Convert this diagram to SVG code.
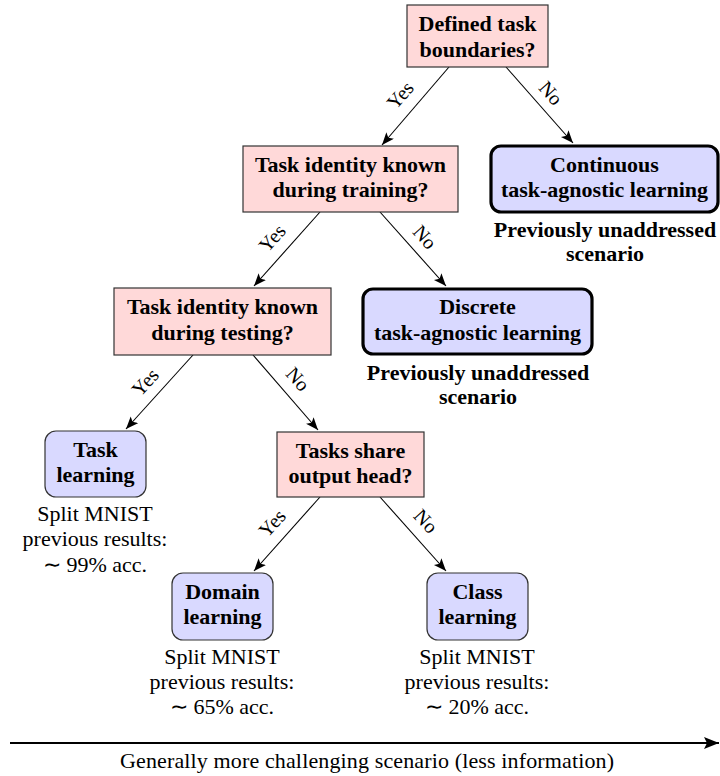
<svg xmlns="http://www.w3.org/2000/svg" width="720" height="776" viewBox="0 0 720 776">
<style>
.q{fill:#ffd9d9;stroke:#333;stroke-width:1.2}
.r{fill:#d9d9ff;stroke:#333;stroke-width:1.2}
.rt{fill:#d9d9ff;stroke:#000;stroke-width:3.2}
.b{font-family:"Liberation Serif","Times New Roman",serif;font-weight:bold;font-size:22px;fill:#000;text-anchor:middle}
.t{font-family:"Liberation Serif","Times New Roman",serif;font-size:22px;fill:#000;text-anchor:middle}
.l{font-family:"Liberation Serif","Times New Roman",serif;font-size:20px;fill:#000;text-anchor:middle}
.c{stroke:#000;stroke-width:1.1;fill:none;marker-end:url(#ah)}
</style>
<defs>
<marker id="ah" markerUnits="userSpaceOnUse" markerWidth="14" markerHeight="11" refX="12.5" refY="5" orient="auto">
<path d="M0,0 L12.5,5 L0,10 L2.8,5 z" fill="#000"/>
</marker>
<marker id="ah2" markerUnits="userSpaceOnUse" markerWidth="16" markerHeight="14" refX="15" refY="6" orient="auto">
<path d="M0,0 L15,6 L0,12 L3,6 z" fill="#000"/>
</marker>
</defs>
<rect width="720" height="776" fill="#fff"/>

<g id="connectors">
<path class="c" d="M449,67 L382,145"/>
<path class="c" d="M506,67 L573,143"/>
<path class="c" d="M320,212 L254,286"/>
<path class="c" d="M380,212 L446,286"/>
<path class="c" d="M193,355 L126,429"/>
<path class="c" d="M253,355 L318,430"/>
<path class="c" d="M320,497 L254,571"/>
<path class="c" d="M380,497 L446,571"/>
<g transform="translate(400,95) rotate(-49)"><text class="l" x="0" y="7">Yes</text></g>
<g transform="translate(551,93) rotate(48.6)"><text class="l" x="0" y="7">No</text></g>
<g transform="translate(272,238) rotate(-48.3)"><text class="l" x="0" y="7">Yes</text></g>
<g transform="translate(425,237) rotate(48.3)"><text class="l" x="0" y="7">No</text></g>
<g transform="translate(145,382) rotate(-47.5)"><text class="l" x="0" y="7">Yes</text></g>
<g transform="translate(298,379) rotate(48.3)"><text class="l" x="0" y="7">No</text></g>
<g transform="translate(272,523) rotate(-47.5)"><text class="l" x="0" y="7">Yes</text></g>
<g transform="translate(426,521) rotate(47)"><text class="l" x="0" y="7">No</text></g>
</g>

<g id="n1">
<rect class="q" x="407" y="5" width="141" height="62"/>
<text class="b" x="477.5" y="31">Defined task</text>
<text class="b" x="477.5" y="57">boundaries?</text>
</g>

<g id="n2">
<rect class="q" x="243" y="146" width="215" height="66"/>
<text class="b" x="350.5" y="172">Task identity known</text>
<text class="b" x="350.5" y="197">during training?</text>
</g>

<g id="n_cont">
<rect class="rt" x="491" y="146" width="227" height="66" rx="10"/>
<text class="b" x="604.5" y="172">Continuous</text>
<text class="b" x="604.5" y="197">task-agnostic learning</text>
<text class="b" x="605" y="237">Previously unaddressed</text>
<text class="b" x="605" y="261">scenario</text>
</g>

<g id="n3">
<rect class="q" x="114" y="288" width="217" height="67"/>
<text class="b" x="222.5" y="314">Task identity known</text>
<text class="b" x="222.5" y="340">during testing?</text>
</g>

<g id="n_disc">
<rect class="rt" x="363" y="289" width="229" height="65" rx="10"/>
<text class="b" x="477.5" y="314">Discrete</text>
<text class="b" x="477.5" y="340">task-agnostic learning</text>
<text class="b" x="478" y="380">Previously unaddressed</text>
<text class="b" x="478" y="404">scenario</text>
</g>

<g id="n_task">
<rect class="r" x="45" y="431" width="101" height="66" rx="11"/>
<text class="b" x="95.5" y="457">Task</text>
<text class="b" x="95.5" y="482">learning</text>
<text class="t" x="95" y="521">Split MNIST</text>
<text class="t" x="95" y="546">previous results:</text>
<text class="t" x="95" y="572">∼ 99% acc.</text>
</g>

<g id="n4">
<rect class="q" x="277" y="432" width="147" height="65"/>
<text class="b" x="350.5" y="458">Tasks share</text>
<text class="b" x="350.5" y="483">output head?</text>
</g>

<g id="n_domain">
<rect class="r" x="172" y="573" width="101" height="67" rx="11"/>
<text class="b" x="222.5" y="599">Domain</text>
<text class="b" x="222.5" y="624">learning</text>
<text class="t" x="222" y="664">Split MNIST</text>
<text class="t" x="222" y="689">previous results:</text>
<text class="t" x="222" y="714">∼ 65% acc.</text>
</g>

<g id="n_class">
<rect class="r" x="427" y="573" width="101" height="67" rx="11"/>
<text class="b" x="477.5" y="599">Class</text>
<text class="b" x="477.5" y="624">learning</text>
<text class="t" x="477" y="664">Split MNIST</text>
<text class="t" x="477" y="689">previous results:</text>
<text class="t" x="477" y="714">∼ 20% acc.</text>
</g>

<g id="axis">
<path d="M10,743 L719,743" stroke="#000" stroke-width="2.2" fill="none" marker-end="url(#ah2)"/>
<text class="t" x="367" y="768" textLength="494">Generally more challenging scenario (less information)</text>
</g>
</svg>
